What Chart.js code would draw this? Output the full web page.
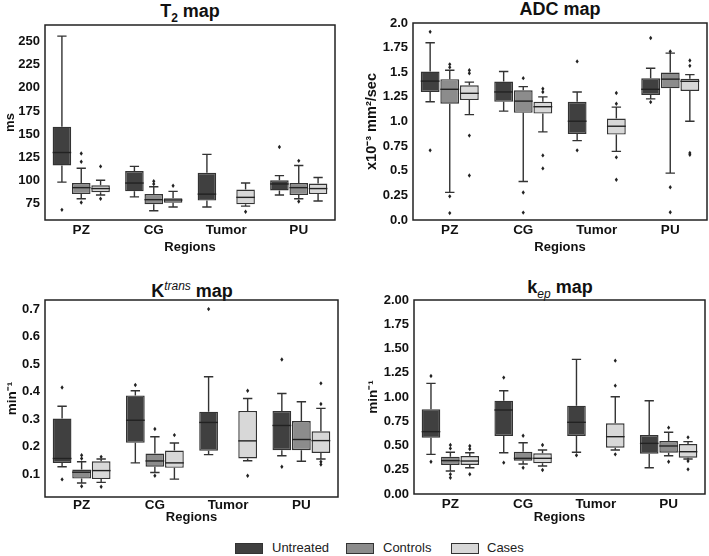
<!DOCTYPE html>
<html>
<head>
<meta charset="utf-8">
<script src="https://cdn.jsdelivr.net/npm/chart.js@4/dist/chart.umd.min.js"></script>
<style>
  html, body { margin: 0; padding: 0; background: #fff; }
  body { width: 709px; height: 556px; position: relative; overflow: hidden;
         font-family: "Liberation Sans", Arial, Helvetica, sans-serif; }
  canvas { position: absolute; }
  .ttl { position: absolute; font-weight: bold; font-size: 18px; line-height: 20px;
         color: #111; text-align: center; width: 300px; white-space: nowrap; }
  .ttl sub, .ttl sup { font-size: 12px; }
  .ttl i { font-weight: normal; }
  .leg { position: absolute; font-size: 13px; color: #222; line-height: 14px; }
  .patch { position: absolute; width: 26px; height: 9px; border: 1px solid #333; }
</style>
</head>
<body>
<div class="ttl" style="left:40px; top:1px;">T<sub>2</sub> map</div>
<div class="ttl" style="left:410px; top:-1px;">ADC map</div>
<div class="ttl" style="left:42px; top:276px;">K<sup><i>trans</i></sup> map</div>
<div class="ttl" style="left:410px; top:277px;">k<sub><i>ep</i></sub> map</div>

<canvas id="c1" width="350" height="255" style="left:0px; top:0px;"></canvas>
<canvas id="c2" width="354" height="255" style="left:355px; top:0px;"></canvas>
<canvas id="c3" width="350" height="255" style="left:0px; top:270px;"></canvas>
<canvas id="c4" width="354" height="255" style="left:355px; top:270px;"></canvas>

<div class="patch" style="left:235px; top:543px; background:#404040;"></div>
<div class="leg" style="left:272px; top:541px;">Untreated</div>
<div class="patch" style="left:346px; top:543px; background:#8c8c8c;"></div>
<div class="leg" style="left:383px; top:541px;">Controls</div>
<div class="patch" style="left:451px; top:543px; background:#d8d8d8;"></div>
<div class="leg" style="left:487px; top:541px;">Cases</div>

<script>
// ---------------- DATA ----------------
const categories = ['PZ', 'CG', 'Tumor', 'PU'];
const seriesNames = ['Untreated', 'Controls', 'Cases'];
// each box: [lower whisker, Q1, median, Q3, upper whisker]; null = no box

// T2 map (ms)
const t2Untreated = [[98, 116, 130, 158, 256], [82, 88, 97, 110, 115], [71, 78, 85, 108, 128], [84, 89, 96, 100, 105]];
const t2Controls  = [[80, 85, 92, 97, 113], [67, 74, 79, 85, 93], null, [80, 84, 92, 97, 116]];
const t2Cases     = [[84, 87, 91, 94.5, 100], [71, 75.7, 78.6, 80.4, 88], [72, 74, 81.5, 90, 97], [77.5, 85, 91, 96.5, 103]];
const t2UntreatedOut = [[68], [], [], [136]];
const t2ControlsOut  = [[129, 120, 76], [99, 96], [], [121, 77]];
const t2CasesOut     = [[115, 80], [94], [66], []];
const t2Ticks = [75, 100, 125, 150, 175, 200, 225, 250];
const t2TickLabels = ['75', '100', '125', '150', '175', '200', '225', '250'];

// ADC map (x10^-3 mm2/sec)
const adcUntreated = [[1.20, 1.30, 1.41, 1.507, 1.80], [1.105, 1.20, 1.30, 1.405, 1.507], [0.806, 0.874, 1.003, 1.20, 1.30], [1.23, 1.27, 1.327, 1.439, 1.54]];
const adcControls  = [[0.28, 1.18, 1.327, 1.43, 1.52], [0.391, 1.088, 1.207, 1.316, 1.354], null, [0.476, 1.337, 1.43, 1.497, 1.694]];
const adcCases     = [[1.07, 1.218, 1.286, 1.367, 1.40], [0.895, 1.08, 1.15, 1.20, 1.25], [0.697, 0.867, 0.952, 1.03, 1.146], [1.003, 1.31, 1.408, 1.435, 1.476]];
const adcUntreatedOut = [[1.91, 0.707], [], [1.61, 0.707], [1.847, 1.197]];
const adcControlsOut  = [[1.58, 1.55, 0.24, 0.07], [1.44, 0.279, 0.075], [], [1.71, 0.333, 0.078]];
const adcCasesOut     = [[1.52, 1.49, 0.857, 0.452], [1.333, 1.30, 0.656, 0.524], [1.29, 1.18, 0.636, 0.408], [1.62, 1.565, 0.68, 0.663]];
const adcTicks = [0, 0.25, 0.5, 0.75, 1.0, 1.25, 1.5, 1.75, 2.0];
const adcTickLabels = ['0.0', '0.25', '0.5', '0.75', '1.0', '1.25', '1.5', '1.75', '2.0'];

// Ktrans map (min^-1)
const ktUntreated = [[0.127, 0.141, 0.157, 0.302, 0.347], [0.141, 0.214, 0.296, 0.386, 0.403], [0.171, 0.185, 0.288, 0.327, 0.454], [0.167, 0.187, 0.277, 0.33, 0.393]];
const ktControls  = [[0.068, 0.084, 0.107, 0.117, 0.145], [0.106, 0.127, 0.148, 0.175, 0.236], null, [0.147, 0.187, 0.226, 0.293, 0.363]];
const ktCases     = [[0.07, 0.082, 0.113, 0.147, 0.155], [0.082, 0.123, 0.141, 0.186, 0.213], [0.149, 0.157, 0.221, 0.33, 0.375], [0.155, 0.177, 0.222, 0.256, 0.339]];
const ktUntreatedOut = [[0.415, 0.081], [0.424], [0.70], [0.517, 0.127]];
const ktControlsOut  = [[0.169, 0.157, 0.056], [0.264, 0.094], [], []];
const ktCasesOut     = [[0.163, 0.054], [0.242], [0.403, 0.094], [0.43, 0.355, 0.145, 0.135]];
const ktTicks = [0.1, 0.2, 0.3, 0.4, 0.5, 0.6, 0.7];
const ktTickLabels = ['0.1', '0.2', '0.3', '0.4', '0.5', '0.6', '0.7'];

// kep map (min^-1)
const kepUntreated = [[0.409, 0.58, 0.643, 0.873, 1.14], [0.426, 0.598, 0.866, 0.962, 1.065], [0.43, 0.598, 0.739, 0.911, 1.388], [0.271, 0.416, 0.522, 0.608, 0.962]];
const kepControls  = [[0.237, 0.299, 0.344, 0.385, 0.43], [0.309, 0.344, 0.368, 0.436, 0.529], null, [0.395, 0.426, 0.495, 0.546, 0.636]];
const kepCases     = [[0.271, 0.299, 0.34, 0.392, 0.426], [0.289, 0.316, 0.368, 0.419, 0.454], [0.454, 0.478, 0.591, 0.729, 1.003], [0.361, 0.375, 0.436, 0.515, 0.54]];
const kepUntreatedOut = [[1.217, 0.333], [1.20, 0.323], [0.40], []];
const kepControlsOut  = [[0.505, 0.47, 0.203, 0.168], [0.60, 0.271], [], [0.684, 0.333]];
const kepCasesOut     = [[0.495, 0.464, 0.203], [0.505, 0.247], [1.375, 1.117, 0.409], [0.584, 0.34, 0.254]];
const kepTicks = [0, 0.25, 0.5, 0.75, 1.0, 1.25, 1.5, 1.75, 2.0];
const kepTickLabels = ['0.00', '0.25', '0.50', '0.75', '1.00', '1.25', '1.50', '1.75', '2.00'];

// ---------------- STYLE ----------------
const FONT = '"Liberation Sans", Arial, Helvetica, sans-serif';
const fills = ['#404040', '#8c8c8c', '#d8d8d8'];
const EDGE = '#333333';

const boxPlugin = {
  id: 'boxextras',
  afterDatasetsDraw(chart) {
    const ctx = chart.ctx;
    const ys = chart.scales.y;
    const area = chart.chartArea;
    ctx.save();
    ctx.beginPath();
    ctx.rect(area.left, area.top, area.right - area.left, area.bottom - area.top);
    ctx.clip();
    chart.data.datasets.forEach((ds, di) => {
      const meta = chart.getDatasetMeta(di);
      ds.stats.forEach((s, i) => {
        if (!s) return;
        const bar = meta.data[i];
        const x = bar.x, w = bar.width;
        const py = v => ys.getPixelForValue(v);
        ctx.strokeStyle = EDGE;
        ctx.lineWidth = 1.4;
        ctx.beginPath();
        ctx.moveTo(x, py(s[3])); ctx.lineTo(x, py(s[4]));
        ctx.moveTo(x, py(s[1])); ctx.lineTo(x, py(s[0]));
        const cw = w * 0.25;
        ctx.moveTo(x - cw, py(s[4])); ctx.lineTo(x + cw, py(s[4]));
        ctx.moveTo(x - cw, py(s[0])); ctx.lineTo(x + cw, py(s[0]));
        ctx.stroke();
        ctx.strokeStyle = '#222';
        ctx.lineWidth = 1.4;
        ctx.beginPath();
        ctx.moveTo(x - w / 2, py(s[2])); ctx.lineTo(x + w / 2, py(s[2]));
        ctx.stroke();
      });
      ds.outliers.forEach((arr, i) => {
        const bar = meta.data[i];
        if (!bar) return;
        const x = bar.x;
        arr.forEach(v => {
          const y = ys.getPixelForValue(v);
          ctx.fillStyle = '#222';
          ctx.beginPath();
          ctx.moveTo(x, y - 2.2); ctx.lineTo(x + 1.6, y); ctx.lineTo(x, y + 2.2); ctx.lineTo(x - 1.6, y);
          ctx.closePath();
          ctx.fill();
        });
      });
    });
    ctx.restore();
    ctx.save();
    ctx.strokeStyle = '#222';
    ctx.lineWidth = 1.5;
    ctx.strokeRect(area.left, area.top, area.right - area.left, area.bottom - area.top);
    ctx.restore();
  }
};

function makeChart(id, cfg) {
  const datasets = [cfg.u, cfg.c, cfg.k].map((stats, si) => ({
    label: seriesNames[si],
    data: stats.map(s => s ? [s[1], s[3]] : null),
    stats: stats,
    outliers: cfg.out[si],
    backgroundColor: fills[si],
    borderColor: EDGE,
    borderWidth: 1.4,
    borderSkipped: false,
    barPercentage: 0.96,
    categoryPercentage: 0.8,
    grouped: true
  }));
  return new Chart(document.getElementById(id), {
    type: 'bar',
    data: { labels: categories, datasets },
    options: {
      responsive: false,
      animation: false,
      layout: { padding: { top: cfg.top, right: cfg.right, left: 0, bottom: 0 } },
      plugins: { legend: { display: false }, tooltip: { enabled: false }, title: { display: false } },
      scales: {
        x: {
          grid: { display: false, drawTicks: false },
          border: { display: false },
          ticks: { color: '#111', font: { family: FONT, size: 13.5, weight: 'bold' }, padding: cfg.xpad },
          title: { display: true, text: 'Regions', color: '#111', font: { family: FONT, size: 13, weight: 'bold' }, padding: 0 },
          afterFit(s) { s.height = cfg.xh; }
        },
        y: {
          min: cfg.min, max: cfg.max,
          grid: { display: false, drawTicks: false },
          border: { display: false },
          afterBuildTicks(s) { s.ticks = cfg.ticks.map(v => ({ value: v })); },
          ticks: {
            color: '#111', font: { family: FONT, size: 13, weight: 'bold' }, padding: 5,
            callback: (v, i) => cfg.labels[i]
          },
          title: { display: true, text: cfg.ytitle, color: '#111', font: { family: FONT, size: cfg.ytsize, weight: 'bold' }, padding: { top: cfg.ytpad, bottom: 0 } },
          afterFit(s) { s.width = cfg.yw; }
        }
      }
    },
    plugins: [boxPlugin]
  });
}

makeChart('c1', { u: t2Untreated, c: t2Controls, k: t2Cases, out: [t2UntreatedOut, t2ControlsOut, t2CasesOut],
  min: 57, max: 268, ticks: t2Ticks, labels: t2TickLabels, ytitle: 'ms', ytsize: 13, ytpad: 3,
  top: 25, right: 15, xh: 35, yw: 45, xpad: 2 });
makeChart('c2', { u: adcUntreated, c: adcControls, k: adcCases, out: [adcUntreatedOut, adcControlsOut, adcCasesOut],
  min: 0, max: 2, ticks: adcTicks, labels: adcTickLabels, ytitle: 'x10\u207B\u00B3 mm\u00B2/sec', ytsize: 14.5, ytpad: 8,
  top: 23, right: 2, xh: 35, yw: 58, xpad: 2 });
makeChart('c3', { u: ktUntreated, c: ktControls, k: ktCases, out: [ktUntreatedOut, ktControlsOut, ktCasesOut],
  min: 0.017, max: 0.733, ticks: ktTicks, labels: ktTickLabels, ytitle: 'min\u207B\u00B9', ytsize: 13.5, ytpad: 4,
  top: 30, right: 12, xh: 28, yw: 45, xpad: 0 });
makeChart('c4', { u: kepUntreated, c: kepControls, k: kepCases, out: [kepUntreatedOut, kepControlsOut, kepCasesOut],
  min: 0, max: 2, ticks: kepTicks, labels: kepTickLabels, ytitle: 'min\u207B\u00B9', ytsize: 13.5, ytpad: 10,
  top: 30, right: 4, xh: 31, yw: 59, xpad: 2 });
</script>
</body>
</html>
